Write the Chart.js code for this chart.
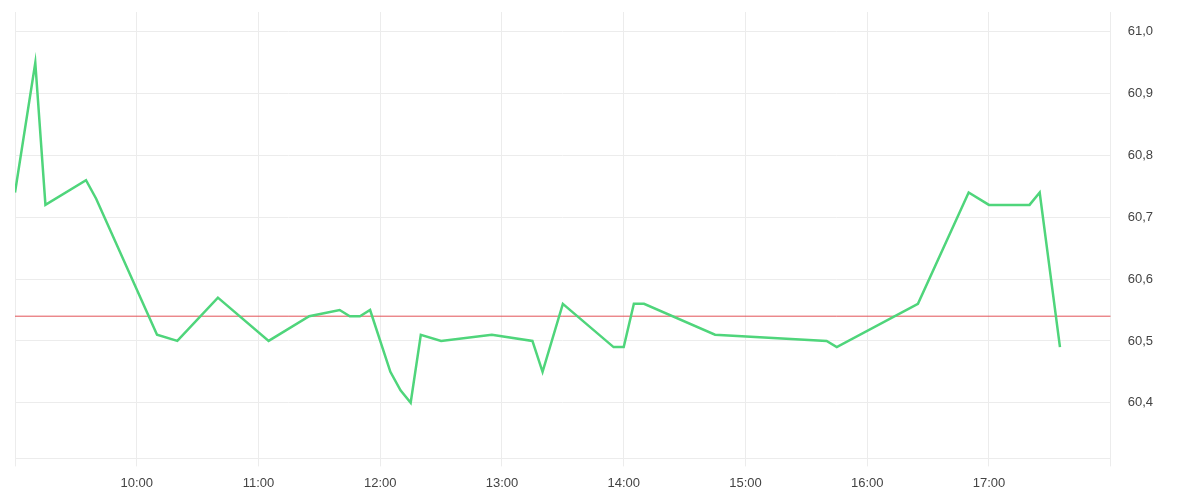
<!DOCTYPE html>
<html>
<head>
<meta charset="utf-8">
<title>Kurs</title>
<script src="https://cdn.jsdelivr.net/npm/chart.js@4.4.0/dist/chart.umd.min.js"></script>
<style>
	body { margin: 0; background: #fff; }
	#wrap { width: 1200px; height: 500px; }
</style>
</head>
<body>
<div id="wrap"><canvas id="myChart"></canvas></div>
<script>
// intraday quotes
const times = ["09:00", "09:10", "09:15", "09:35", "09:40", "10:10", "10:20", "10:40", "11:05", "11:25",
	"11:40", "11:45", "11:50", "11:55", "12:05", "12:10", "12:15", "12:20", "12:30", "12:55",
	"13:15", "13:20", "13:30", "13:55", "14:00", "14:05", "14:10", "14:45", "15:40", "15:45",
	"16:25", "16:50", "17:00", "17:20", "17:25", "17:35"];
const prices = [60.74, 60.95, 60.72, 60.76, 60.73, 60.51, 60.50, 60.57, 60.50, 60.54,
	60.55, 60.54, 60.54, 60.55, 60.45, 60.42, 60.40, 60.51, 60.50, 60.51,
	60.50, 60.45, 60.56, 60.49, 60.49, 60.56, 60.56, 60.51, 60.50, 60.49,
	60.56, 60.74, 60.72, 60.72, 60.74, 60.49];
const prevClose = 60.54;
const dayStart = "09:00";
const dayEnd = "18:00";
const yTicks = [60.4, 60.5, 60.6, 60.7, 60.8, 60.9, 61.0];

function toMin(t) {
	let p = t.split(":");
	return parseInt(p[0]) * 60 + parseInt(p[1]);
}
function fmtTime(m) {
	let h = Math.floor(m / 60);
	let mm = m % 60;
	return (h < 10 ? "0" : "") + h + ":" + (mm < 10 ? "0" : "") + mm;
}

const xMin = toMin(dayStart);
const xMax = toMin(dayEnd);

const points = times.map((t, i) => ({ x: toMin(t), y: prices[i] }));
const refLine = [{ x: xMin, y: prevClose }, { x: xMax, y: prevClose }];

const gridColor = "#ececec";
const textColor = "#444";

const ctx = document.getElementById("myChart").getContext("2d");
const myChart = new Chart(ctx, {
	type: "line",
	data: {
		datasets: [{
			data: points,
			borderColor: "#4fd57b",
			borderWidth: 2.5,
			pointRadius: 0,
			tension: 0,
			fill: false
		}, {
			data: refLine,
			borderColor: "#e25357",
			borderWidth: 1,
			pointRadius: 0,
			fill: false
		}]
	},
	options: {
		responsive: true,
		maintainAspectRatio: false,
		animation: false,
		layout: { padding: { left: 15, top: 12, right: 30, bottom: 0 } },
		plugins: {
			legend: { display: false },
			tooltip: { enabled: false }
		},
		scales: {
			x: {
				type: "linear",
				min: xMin,
				max: xMax,
				grid: { color: gridColor, tickLength: 8 },
				border: { color: gridColor },
				ticks: {
					stepSize: 60,
					color: textColor,
					padding: 9,
					maxRotation: 0,
					font: { family: "'Liberation Sans', Arial, sans-serif", size: 13 },
					callback: function(value) {
						if (value == xMin || value == xMax) return "";
						return fmtTime(value);
					}
				}
			},
			y: {
				position: "right",
				min: 60.31,
				max: 61.032,
				afterBuildTicks: function(axis) {
					axis.ticks = yTicks.map(v => ({ value: v }));
				},
				afterFit: function(axis) {
					axis.paddingTop = 0;
					axis.paddingBottom = 0;
				},
				grid: { color: gridColor, drawTicks: false },
				border: { color: gridColor },
				ticks: {
					color: textColor,
					padding: 17,
					font: { family: "'Liberation Sans', Arial, sans-serif", size: 13 },
					callback: function(value) {
						return value.toFixed(1).replace(".", ",");
					}
				}
			}
		}
	}
});
</script>
</body>
</html>
